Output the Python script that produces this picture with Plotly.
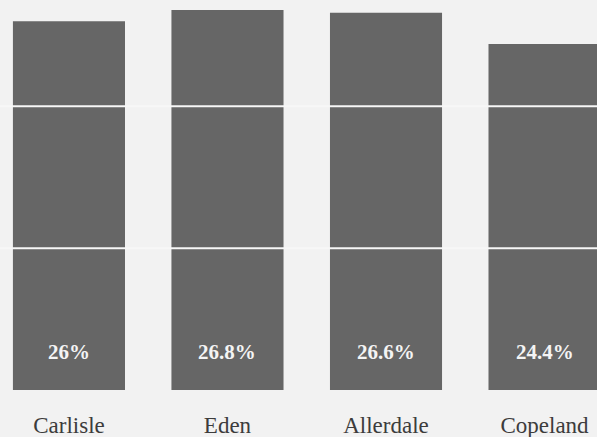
import plotly.graph_objects as go

# Share of residents, by district
districts = ["Carlisle", "Eden", "Allerdale", "Copeland"]
shares = [26.0, 26.8, 26.6, 24.4]
grid_levels = [10, 20]

bar_color = "#666666"
paper_color = "#f2f2f2"
serif = "Liberation Serif"

fig = go.Figure(
    go.Bar(
        x=districts,
        y=shares,
        width=0.707,
        marker=dict(color=bar_color, line=dict(width=0)),
        hoverinfo="skip",
    )
)

# value labels sit near the foot of each bar
for name, v in zip(districts, shares):
    fig.add_annotation(
        x=name, y=0, yanchor="middle", yshift=38,
        text=f"<b>{v:g}%</b>", showarrow=False,
        font=dict(family=serif, size=21, color="#f4f4f4"),
    )

# white rules drawn across the bars
for g in grid_levels:
    fig.add_shape(
        type="line", xref="paper", x0=0, x1=1, y0=g, y1=g,
        line=dict(color="#f7f7f7", width=2), layer="above",
    )

fig.update_layout(
    width=597, height=437,
    margin=dict(l=0, r=0, t=0, b=47),
    paper_bgcolor=paper_color, plot_bgcolor=paper_color,
    showlegend=False,
    xaxis=dict(
        range=[-0.435, 3.331], showgrid=False, zeroline=False, showline=False,
        automargin=False,
        ticks="outside", ticklen=14, tickcolor="rgba(0,0,0,0)",
        tickfont=dict(family=serif, size=23, color="#3c3c3c"),
    ),
    yaxis=dict(
        range=[0, 27.5], showgrid=False, zeroline=False, showline=False,
        automargin=False, showticklabels=False, ticks="",
    ),
)

fig.write_html("out.html")
